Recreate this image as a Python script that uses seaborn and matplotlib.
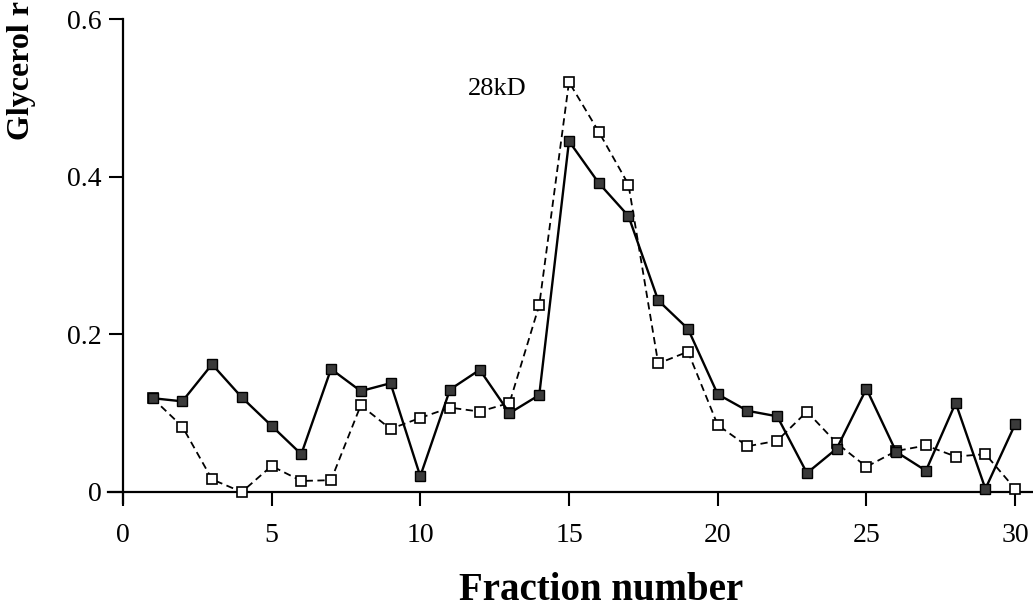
import matplotlib
matplotlib.use("Agg")
import matplotlib.pyplot as plt
import seaborn as sns
import numpy as np
import pandas as pd

fractions = list(range(1, 31))
filled_values = [0.119, 0.115, 0.162, 0.120, 0.084, 0.048, 0.156, 0.128, 0.138, 0.020,
                 0.130, 0.155, 0.100, 0.123, 0.445, 0.392, 0.350, 0.243, 0.207, 0.124,
                 0.103, 0.096, 0.024, 0.055, 0.131, 0.051, 0.027, 0.113, 0.004, 0.086]
open_values = [0.119, 0.083, 0.016, 0.000, 0.033, 0.014, 0.015, 0.110, 0.080, 0.094,
               0.107, 0.102, 0.113, 0.237, 0.520, 0.457, 0.390, 0.163, 0.178, 0.085,
               0.058, 0.065, 0.102, 0.062, 0.032, 0.052, 0.059, 0.045, 0.048, 0.004]
x_ticks = [0, 5, 10, 15, 20, 25, 30]
y_ticks = [0, 0.2, 0.4, 0.6]
y_tick_labels = ["0", "0.2", "0.4", "0.6"]
annotation = "28kD"

sns.set_theme(style="white")
plt.rcParams['font.family'] = ['Liberation Serif', 'DejaVu Serif']

fig = plt.figure(figsize=(10.33, 6.09), dpi=100)
ax = fig.add_axes([0.1045, 0.174, 0.8955, 0.7948])

df_open = pd.DataFrame({"x": fractions, "y": open_values})
df_filled = pd.DataFrame({"x": fractions, "y": filled_values})

sns.lineplot(data=df_open, x="x", y="y", ax=ax, color="black", linewidth=1.3,
             linestyle=(0, (4, 2.5)), marker="s", markersize=7.5,
             markerfacecolor="white", markeredgecolor="black", markeredgewidth=1.2,
             zorder=3)
sns.lineplot(data=df_filled, x="x", y="y", ax=ax, color="black", linewidth=1.7,
             marker="s", markersize=7.5, markerfacecolor="#3a3a3a",
             markeredgecolor="black", markeredgewidth=1.0, zorder=4)

ax.set_xlim(-0.5, 30.6)
ax.set_ylim(-0.014, 0.6)
ax.spines['left'].set_position(('data', 0))
ax.spines['bottom'].set_position(('data', 0))
ax.spines['top'].set_visible(False)
ax.spines['right'].set_visible(False)
for s in ('left', 'bottom'):
    ax.spines[s].set_color('black')
    ax.spines[s].set_linewidth(1.6)

ax.set_xticks(x_ticks)
ax.set_xticklabels([str(t) for t in x_ticks])
ax.set_yticks(y_ticks)
ax.set_yticklabels(y_tick_labels)
ax.tick_params(axis='both', direction='out', length=10, width=1.5, color='black',
               labelsize=20, labelcolor='black', left=True, bottom=True)
ax.tick_params(axis='x', pad=12)
ax.tick_params(axis='y', pad=5)
ax.set_xlabel("")
ax.set_ylabel("")
ax.grid(False)

ax.text(12.6, 0.504, annotation, fontsize=19, ha='center', va='baseline', color='black')

fig.text(601 / 1033, 1 - 600 / 609, "Fraction number", fontsize=28, fontweight='bold',
         ha='center', va='baseline', color='black')
fig.text(22 / 1033, 0.999, "Glycerol r", fontsize=23, fontweight='bold', rotation=90,
         ha='center', va='top', color='black')

fig.savefig("out.png", dpi=100)
